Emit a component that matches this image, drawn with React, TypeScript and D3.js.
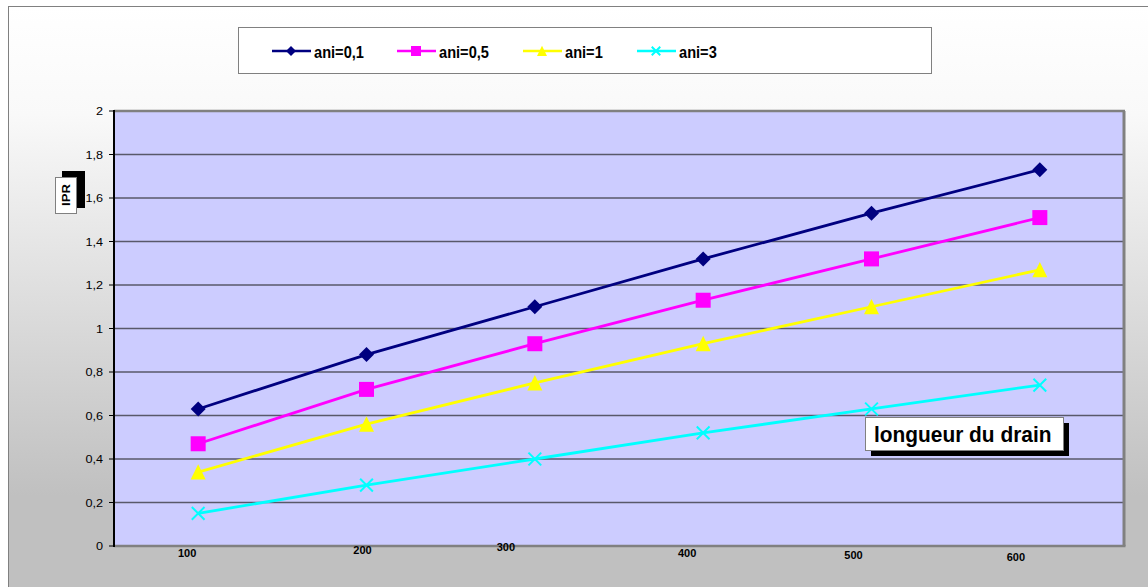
import React from "react";
import * as d3 from "d3";

// Drain length categories and the IPR series for each anisotropy ratio
const categories = ["100", "200", "300", "400", "500", "600"];
const seriesNames = ["ani=0,1", "ani=0,5", "ani=1", "ani=3"];
const ani01 = [0.63, 0.88, 1.1, 1.32, 1.53, 1.73];
const ani05 = [0.47, 0.72, 0.93, 1.13, 1.32, 1.51];
const ani1 = [0.34, 0.56, 0.75, 0.93, 1.1, 1.27];
const ani3 = [0.15, 0.28, 0.4, 0.52, 0.63, 0.74];
const yTicks = [0, 0.2, 0.4, 0.6, 0.8, 1, 1.2, 1.4, 1.6, 1.8, 2];

const W = 1148;
const H = 587;
const plot = { left: 114, top: 111, right: 1124, bottom: 546 };
const FONT = "'Liberation Sans', Arial, Helvetica, sans-serif";

const styles = [
  { color: "#000080", marker: "diamond" },
  { color: "#ff00ff", marker: "square" },
  { color: "#ffff00", marker: "triangle" },
  { color: "#00ffff", marker: "cross" },
];

// Category labels sit slightly off their points, as in the original worksheet
const labelNudge: [number, number][] = [
  [-11, 11],
  [-4, 8],
  [-29, 5],
  [-16, 11],
  [-18, 13],
  [-24, 15],
];

function Marker({ kind, x, y, color, s }: { kind: string; x: number; y: number; color: string; s: number }) {
  const h = s / 2;
  if (kind === "diamond") {
    return <path d={`M${x},${y - h}L${x + h},${y}L${x},${y + h}L${x - h},${y}Z`} fill={color} />;
  }
  if (kind === "square") {
    return <rect x={x - h} y={y - h} width={s} height={s} fill={color} />;
  }
  if (kind === "triangle") {
    return <path d={`M${x},${y - h * 1.05}L${x + h},${y + h}L${x - h},${y + h}Z`} fill={color} />;
  }
  const c = h * 0.85;
  return (
    <path
      d={`M${x - c},${y - c}L${x + c},${y + c}M${x + c},${y - c}L${x - c},${y + c}`}
      stroke={color}
      strokeWidth={2}
      fill="none"
    />
  );
}

export default function App() {
  const data = [ani01, ani05, ani1, ani3];
  const x = d3
    .scaleBand<string>()
    .domain(categories)
    .range([plot.left, plot.right])
    .paddingInner(0)
    .paddingOuter(0);
  const cx = (c: string) => (x(c) as number) + x.bandwidth() / 2;
  const y = d3.scaleLinear().domain([0, 2]).range([plot.bottom, plot.top]);
  const line = d3
    .line<number>()
    .x((_, i) => cx(categories[i]))
    .y((v) => y(v));
  const fmt = (v: number) => String(+v.toFixed(1)).replace(".", ",");

  const legendX = [272, 397, 523, 637];

  return (
    <svg
      width={W}
      height={H}
      style={{ position: "absolute", left: 0, top: 0, display: "block" }}
      fontFamily={FONT}
    >
      <defs>
        <linearGradient id="bg" x1="0" y1="0" x2="0" y2="1">
          <stop offset="0" stopColor="#ffffff" />
          <stop offset="0.18" stopColor="#f9f9f9" />
          <stop offset="0.82" stopColor="#c0c0c0" />
          <stop offset="1" stopColor="#c0c0c0" />
        </linearGradient>
      </defs>
      <rect x={8.5} y={6.5} width={W + 10} height={H + 10} fill="url(#bg)" stroke="#808080" strokeWidth={1} />

      {/* legend */}
      <rect x={238.5} y={27.5} width={693} height={46} fill="#ffffff" stroke="#808080" strokeWidth={1} />
      {seriesNames.map((name, i) => (
        <g key={name}>
          <line x1={legendX[i]} x2={legendX[i] + 39} y1={51} y2={51} stroke={styles[i].color} strokeWidth={2.5} />
          <Marker kind={styles[i].marker} x={legendX[i] + 19} y={51} color={styles[i].color} s={10} />
          <text
            transform={`translate(${legendX[i] + 42},58) scale(0.86,1)`}
            fontSize={17}
            fontWeight="bold"
            fill="#000"
          >
            {name}
          </text>
        </g>
      ))}

      {/* plot area */}
      <rect
        x={plot.left}
        y={plot.top}
        width={plot.right - plot.left}
        height={plot.bottom - plot.top}
        fill="#ccccff"
      />
      {yTicks.slice(1, -1).map((t) => (
        <line key={t} x1={plot.left} x2={plot.right} y1={y(t)} y2={y(t)} stroke="#58586a" strokeWidth={1.3} />
      ))}
      {/* frame */}
      <line x1={plot.left} x2={plot.right + 1} y1={plot.top} y2={plot.top} stroke="#808080" strokeWidth={2.5} />
      <line x1={plot.right} x2={plot.right} y1={plot.top} y2={plot.bottom} stroke="#808080" strokeWidth={3} />
      <line x1={plot.left} x2={plot.right + 1.5} y1={plot.bottom} y2={plot.bottom} stroke="#808080" strokeWidth={2.5} />
      <line x1={plot.left} x2={plot.left} y1={plot.top - 1} y2={plot.bottom + 1} stroke="#000" strokeWidth={2} />
      {yTicks.map((t) => (
        <g key={t}>
          <line x1={plot.left - 5} x2={plot.left} y1={y(t)} y2={y(t)} stroke="#000" strokeWidth={1} />
          <text
            transform={`translate(103,${y(t) + 4}) scale(1.15,1)`}
            textAnchor="end"
            fontSize={11}
            fill="#000"
          >
            {fmt(t)}
          </text>
        </g>
      ))}
      {categories.map((c, i) => (
        <text
          key={c}
          x={cx(c) + labelNudge[i][0]}
          y={plot.bottom + labelNudge[i][1]}
          textAnchor="middle"
          fontSize={11}
          fontWeight="bold"
          fill="#000"
        >
          {c}
        </text>
      ))}

      {/* series */}
      {data.map((vals, si) => (
        <g key={seriesNames[si]}>
          <path d={line(vals) || ""} fill="none" stroke={styles[si].color} strokeWidth={2.8} />
          {vals.map((v, i) => (
            <Marker
              key={i}
              kind={styles[si].marker}
              x={cx(categories[i])}
              y={y(v)}
              color={styles[si].color}
              s={15}
            />
          ))}
        </g>
      ))}

      {/* y axis title */}
      <rect x={62} y={171} width={23} height={37} fill="#000" />
      <rect x={55.5} y={177.5} width={21} height={36} fill="#ffffff" stroke="#808080" strokeWidth={1} />
      <text
        transform={`translate(70,195) rotate(-90) scale(1.25,1)`}
        textAnchor="middle"
        fontSize={10.5}
        fontWeight="bold"
        fill="#000"
      >
        IPR
      </text>

      {/* x axis title */}
      <rect x={871} y={423} width={198} height={33} fill="#000" />
      <rect x={865.5} y={417.5} width={198} height={33} fill="#ffffff" stroke="#808080" strokeWidth={1} />
      <text
        transform="translate(874,442) scale(0.95,1)"
        fontSize={22}
        fontWeight="bold"
        fill="#000"
      >
        longueur du drain
      </text>
    </svg>
  );
}
